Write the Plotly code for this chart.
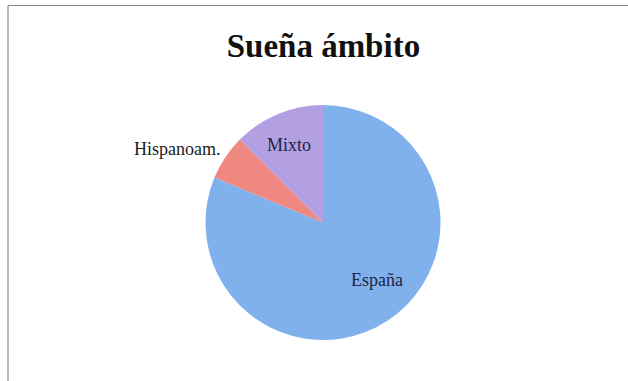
import plotly.graph_objects as go

# Sueña: ámbito de la obra (número de obras)
categories = ["España", "Hispanoam.", "Mixto"]
values = [13, 1, 2]

slice_colors = ["#80b1ec", "#ef8880", "#b3a0e2"]
label_colors = ["#1c2545", "#1a1a1a", "#1c2545"]
# label anchor points in pixels (x, y from top)
label_points = [(377, 280), (177, 149), (289, 145)]

W, H = 628, 381

fig = go.Figure(
    go.Pie(
        labels=categories,
        values=values,
        sort=False,
        direction="clockwise",
        rotation=0,
        marker=dict(colors=slice_colors, line=dict(width=0)),
        textinfo="none",
        showlegend=False,
        hoverinfo="label+value+percent",
        domain=dict(x=[205.5 / W, 440.5 / W], y=[1 - 340 / H, 1 - 105 / H]),
    )
)

for name, color, (px, py) in zip(categories, label_colors, label_points):
    fig.add_annotation(
        text=name, xref="paper", yref="paper",
        x=px / W, y=1 - py / H, xanchor="center", yanchor="middle",
        showarrow=False,
        font=dict(family="Liberation Serif", size=18, color=color),
    )

fig.update_layout(
    width=W,
    height=H,
    margin=dict(l=0, r=0, t=0, b=0),
    paper_bgcolor="white",
    plot_bgcolor="white",
    title=dict(
        text="<b>Sueña ámbito</b>",
        font=dict(family="Liberation Serif", size=33, color="#111111"),
        x=0.515,
        xanchor="center",
        y=1 - 45 / H,
        yanchor="middle",
    ),
    shapes=[
        dict(type="line", xref="paper", yref="paper",
             x0=8 / W, x1=1, y0=1 - 5.5 / H, y1=1 - 5.5 / H,
             line=dict(color="#8a8a8a", width=1.2)),
        dict(type="line", xref="paper", yref="paper",
             x0=8 / W, x1=8 / W, y0=0, y1=1 - 5.5 / H,
             line=dict(color="#8a8a8a", width=1.2)),
    ],
)

fig.write_html("out.html")
